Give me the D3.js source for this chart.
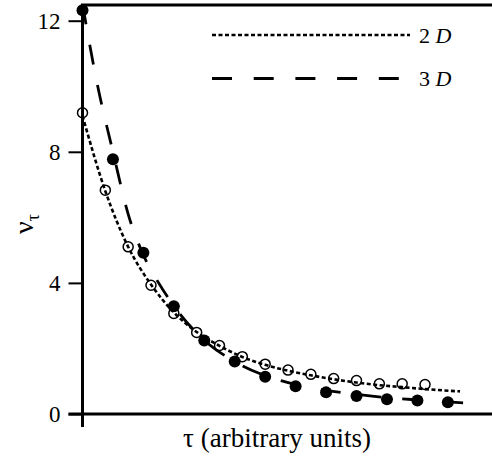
<!DOCTYPE html>
<html>
<head>
<meta charset="utf-8">
<script src="https://cdn.jsdelivr.net/npm/d3@7"></script>
<style>
  body { margin: 0; background: #fff; }
</style>
</head>
<body>
<svg></svg>
<script>
let width = 492;
let height = 459;
let serif = 'Liberation Serif';

// 2D series: open circles
let tau2D = [0, 0.75, 1.5, 2.25, 3, 3.75, 4.5, 5.25, 6, 6.75, 7.5, 8.25, 9, 9.75, 10.5, 11.25];
let v2D = [9.19, 6.83, 5.10, 3.93, 3.07, 2.49, 2.09, 1.75, 1.52, 1.34, 1.21, 1.08, 1.02, 0.92, 0.92, 0.90];

// 3D series: filled circles
let tau3D = [0, 1, 2, 3, 4, 5, 6, 7, 8, 9, 10, 11, 12];
let v3D = [12.32, 7.77, 4.92, 3.29, 2.24, 1.60, 1.14, 0.85, 0.66, 0.55, 0.45, 0.41, 0.36];

// fitted curves
let fitTau2D = [0, 0.75, 1.5, 2.25, 3, 3.75, 4.5, 5.25, 6, 6.75, 7.5, 8.25, 9, 9.75, 10.5, 11.25, 12.4];
let fitV2D = [9.1, 6.8, 5.1, 3.95, 3.1, 2.5, 2.08, 1.74, 1.5, 1.32, 1.18, 1.06, 0.96, 0.88, 0.82, 0.76, 0.69];
let fitTau3D = [0, 0.5, 1, 1.5, 2, 2.5, 3, 4, 5, 6, 7, 8, 9, 10, 11, 12, 13];
let fitV3D = [12.5, 10.0, 8.0, 6.1, 4.85, 4.0, 3.3, 2.25, 1.6, 1.17, 0.9, 0.72, 0.6, 0.5, 0.43, 0.37, 0.31];

let yTicks = [0, 4, 8, 12];
let legendLabels = ['2', '3'];

let xScale = d3.scaleLinear()
               .domain([0, 13.45])
               .range([82.5, 492]);

let yScale = d3.scaleLinear()
               .domain([0, 12])
               .range([414, 20.7]);

let svg = d3.select('svg')
    .attr('width', width)
    .attr('height', height);

svg.append('rect').attr('width', width).attr('height', height).attr('fill', '#fff');

// y axis ticks + labels
let yAxis = svg.append('g')
    .attr('transform', 'translate(82.5,0)')
    .call(d3.axisLeft(yScale).tickValues(yTicks).tickSize(14).tickPadding(8).tickFormat(d3.format('d')));
yAxis.select('.domain').remove();
yAxis.selectAll('.tick line').attr('stroke', '#000').attr('stroke-width', 2);
yAxis.selectAll('.tick text')
    .attr('fill', '#000')
    .style('font-family', serif)
    .style('font-size', '23px');

// frame lines
svg.append('line')
    .attr('x1', 82.5).attr('x2', 82.5)
    .attr('y1', 4).attr('y2', 427)
    .attr('stroke', '#000').attr('stroke-width', 3);
svg.append('line')
    .attr('x1', 68.5).attr('x2', width)
    .attr('y1', yScale(0)).attr('y2', yScale(0))
    .attr('stroke', '#000').attr('stroke-width', 3);
svg.append('line')
    .attr('x1', 81).attr('x2', width)
    .attr('y1', 5).attr('y2', 5)
    .attr('stroke', '#000').attr('stroke-width', 3);

// fitted curves
let line = d3.line()
    .x(d => xScale(d[0]))
    .y(d => yScale(d[1]))
    .curve(d3.curveMonotoneX);

svg.append('path')
    .datum(fitTau2D.map((t, i) => [t, fitV2D[i]]))
    .attr('d', line)
    .attr('fill', 'none')
    .attr('stroke', '#000')
    .attr('stroke-width', 2.6)
    .attr('stroke-dasharray', '4,2.5');

svg.append('path')
    .datum(fitTau3D.map((t, i) => [t, fitV3D[i]]))
    .attr('d', line)
    .attr('fill', 'none')
    .attr('stroke', '#000')
    .attr('stroke-width', 2.8)
    .attr('stroke-dasharray', '20,21');

// points
svg.append('g')
  .selectAll('circle')
  .data(tau2D.map((t, i) => [t, v2D[i]]))
  .enter()
  .append('circle')
    .attr('cx', d => xScale(d[0]))
    .attr('cy', d => yScale(d[1]))
    .attr('r', 5)
    .attr('fill', 'none')
    .attr('stroke', '#000')
    .attr('stroke-width', 1.5);

svg.append('g')
  .selectAll('circle')
  .data(tau3D.map((t, i) => [t, v3D[i]]))
  .enter()
  .append('circle')
    .attr('cx', d => xScale(d[0]))
    .attr('cy', d => yScale(d[1]))
    .attr('r', 6)
    .attr('fill', '#000');

// legend
let legend = svg.append('g');
legend.append('line')
    .attr('x1', 212).attr('x2', 410).attr('y1', 35).attr('y2', 35)
    .attr('stroke', '#000').attr('stroke-width', 2.6).attr('stroke-dasharray', '4,2.5');
legend.append('line')
    .attr('x1', 212).attr('x2', 400).attr('y1', 78.5).attr('y2', 78.5)
    .attr('stroke', '#000').attr('stroke-width', 2.8).attr('stroke-dasharray', '20,21.7');

legend.selectAll('text')
  .data(legendLabels)
  .enter()
  .append('text')
    .attr('x', 419)
    .attr('y', (d, i) => 42.5 + i * 43.5)
    .style('font-family', serif)
    .style('font-size', '22px')
    .each(function(d) {
      let t = d3.select(this);
      t.append('tspan').text(d + ' ');
      t.append('tspan').style('font-style', 'italic').text('D');
    });

// axis titles
svg.append('text')
    .attr('x', 277)
    .attr('y', 447)
    .attr('text-anchor', 'middle')
    .style('font-family', serif)
    .style('font-size', '27px')
    .text('\u03c4 (arbitrary units)');

let ylab = svg.append('text')
    .attr('transform', 'translate(33,234) rotate(-90)')
    .style('font-family', serif)
    .style('font-size', '28px');
ylab.append('tspan').text('\u03bd');
ylab.append('tspan').attr('dy', 6).style('font-size', '18px').text('\u03c4');
</script>
</body>
</html>
